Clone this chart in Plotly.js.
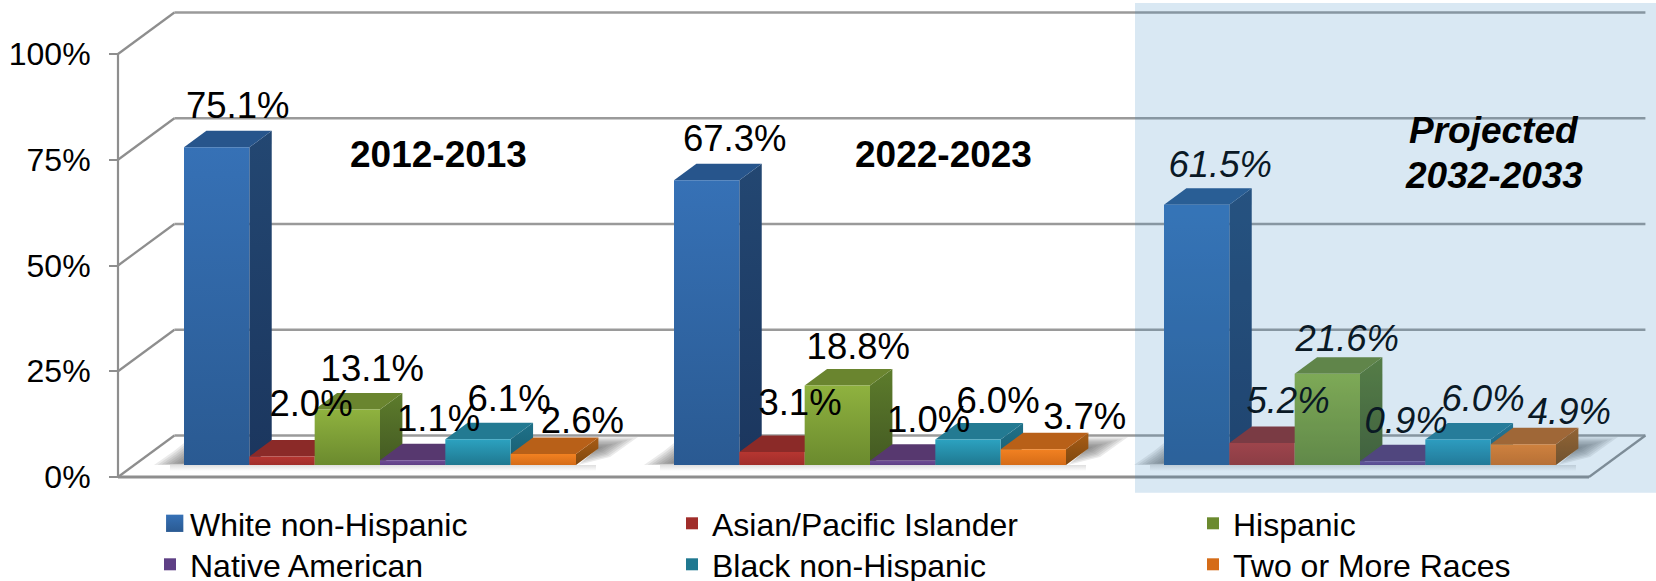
<!DOCTYPE html>
<html>
<head>
<meta charset="utf-8">
<script src="https://cdn.plot.ly/plotly-3.0.1.min.js"></script>
<style>html,body{margin:0;padding:0;background:#fff;overflow:hidden;width:1656px;height:581px}#chart{width:1656px;height:581px;overflow:hidden}</style>
</head>
<body>
<div id="chart"></div>
<script>
// ---------- data ----------
const categories = ['2012-2013', '2022-2023', 'Projected<br>2032-2033'];
const seriesNames = ['White non-Hispanic', 'Asian/Pacific Islander', 'Hispanic', 'Native American', 'Black non-Hispanic', 'Two or More Races'];
const whiteNonHispanic = [75.1, 67.3, 61.5];
const asianPacificIslander = [2.0, 3.1, 5.2];
const hispanic = [13.1, 18.8, 21.6];
const nativeAmerican = [1.1, 1.0, 0.9];
const blackNonHispanic = [6.1, 6.0, 6.0];
const twoOrMoreRaces = [2.6, 3.7, 4.9];
const yTicks = [0, 25, 50, 75, 100];
const allSeries = [whiteNonHispanic, asianPacificIslander, hispanic, nativeAmerican, blackNonHispanic, twoOrMoreRaces];

// ---------- styles: front top, front bottom, side top, side bottom, top face ----------
const palette = [
  ['#3671B6', '#2A5A92', '#234772', '#1B365E', '#27558C'],
  ['#B63631', '#A02D2A', '#8A2A28', '#6E2020', '#8B2A28'],
  ['#8FB23F', '#6B8A2E', '#5D7C2C', '#435922', '#6A852F'],
  ['#6F4D96', '#5E3F85', '#4A3063', '#402A58', '#57386F'],
  ['#2CA2C0', '#1F7890', '#1F7189', '#185D70', '#237A92'],
  ['#F28121', '#D56C18', '#A85C14', '#7E4810', '#B86018']
];

// ---------- geometry (pixels per unit of each axis) ----------
// The figure is a little taller than the window, so the legend's lower row is not clipped by its own box.
const W = 1656, H = 610;
const pxPerCat = 490, pxPerPct = 4.23;
const origin = 380;                     // centre of first category, px
const floorFront = 477, floorBars = 465;
const X = px => (px - origin) / pxPerCat;
const wallDx = 56.4 / pxPerCat, wallDy = 41.5 / pxPerPct;
const barDx = 22.4 / pxPerCat, barDy = 16.5 / pxPerPct;
const frontLeft = X(118), frontRight = X(1589);
const barsShift = (floorFront - floorBars) / pxPerPct;
const barWidth = 0.8 / 6;

// label offsets from the bar's front top-centre, px
const labelDx = [[21, 28, 23.5], [29, 28, 26], [25, 21, 20], [26, 26, 13.5], [31, 30, 25], [39, 51.4, 46]];
const labelLift = [[38.5, 38.5, 36.5], [50, 46.5, 39.5], [38.1, 36, 31.5], [38.5, 37.5, 37.5], [37.5, 36.1, 38.1], [30.5, 29.1, 29.1]];

// legend layout: each series has its own one-item legend placed on a 3 x 2 grid
const legendIds = ['legend', 'legend2', 'legend3', 'legend4', 'legend5', 'legend6'];
const legendColumnsPx = [150, 672, 1193];
const legendRowsPx = [496, 537];

// floor-shadow outlines around each bar group, px relative to the group's base corner, with the darkest point
const shadowLeft = {pts: [[-30, 0], [0, 0], [0, 22], [-10, 14]], dark: [0, 2]};
const shadowRight = {pts: [[2, 0], [22, 16.5], [22, 28], [62, 28], [34, 8]], dark: [22, 17]};
const shadowLayers = 8;

const FONT = 'Liberation Sans, Arial, sans-serif';
const catIdx = categories.map((_, i) => i);
const traces = [];

// soft floor shadows, stacked translucent layers shrinking to the dark point
function addShadow(corner, shape) {
  for (let k = shadowLayers; k >= 1; k--) {
    const f = k / shadowLayers;
    const pts = shape.pts.concat([shape.pts[0]]).map(p => [
      shape.dark[0] + (p[0] - shape.dark[0]) * f,
      shape.dark[1] + (p[1] - shape.dark[1]) * f
    ]);
    traces.push({
      x: pts.map(p => corner + p[0] / pxPerCat), y: pts.map(p => barsShift + p[1] / pxPerPct),
      type: 'scatter', mode: 'none', fill: 'toself', showlegend: false, hoverinfo: 'skip',
      fillcolor: 'rgba(90,90,90,0.12)'
    });
  }
}
catIdx.forEach(g => {
  const L = g - 0.4, R = g + 0.4, s = barsShift;
  addShadow(L, shadowLeft);
  addShadow(R, shadowRight);
  traces.push({
    x: [L - 14 / pxPerCat, R + 20 / pxPerCat, R + 20 / pxPerCat, L - 14 / pxPerCat, L - 14 / pxPerCat],
    y: [s, s, s - 6 / pxPerPct, s - 6 / pxPerPct, s],
    type: 'scatter', mode: 'none', fill: 'toself', showlegend: false, hoverinfo: 'skip',
    fillgradient: {type: 'vertical', colorscale: [[0, 'rgba(200,200,200,0)'], [1, 'rgba(200,200,200,0.6)']]}
  });
});

// depth faces of each bar, painted left to right (on the main axis, below the front faces)
catIdx.forEach(g => {
  allSeries.forEach((vals, i) => {
    const v = vals[g];
    const xl = g + (i - 3) * barWidth, xr = xl + barWidth;
    const s = barsShift;
    traces.push({
      x: [xr, xr + barDx, xr + barDx, xr, xr],
      y: [s, s + barDy, s + v + barDy, s + v, s],
      type: 'scatter', mode: 'none', fill: 'toself', showlegend: false, hoverinfo: 'skip',
      fillgradient: {type: 'vertical', colorscale: [[0, palette[i][3]], [1, palette[i][2]]]}
    });
    traces.push({
      x: [xl, xr, xr + barDx, xl + barDx, xl],
      y: [s + v, s + v, s + v + barDy, s + v + barDy, s + v],
      type: 'scatter', mode: 'none', fill: 'toself', showlegend: false, hoverinfo: 'skip',
      fillcolor: palette[i][4]
    });
  });
});

// front faces: real grouped bars on an overlaid axis whose zero sits on the bar plane
allSeries.forEach((vals, i) => {
  traces.push({
    type: 'bar', x: catIdx, y: vals, name: seriesNames[i], xaxis: 'x', yaxis: 'y2', legend: legendIds[i],
    marker: {color: palette[i][1], line: {width: 0}}, hoverinfo: 'name+y'
  });
});

// data labels
allSeries.forEach((vals, i) => {
  traces.push({
    type: 'scatter', mode: 'text', xaxis: 'x', yaxis: 'y2', showlegend: false, hoverinfo: 'skip',
    x: catIdx.map(g => g + (i - 2.5) * barWidth + labelDx[i][g] / pxPerCat),
    y: vals.map((v, g) => v + labelLift[i][g] / pxPerPct),
    text: vals.map(v => v.toFixed(1) + '%'),
    textposition: 'middle center',
    cliponaxis: false,
    textfont: {family: FONT, size: 36.5, color: '#000', style: catIdx.map(g => g === 2 ? 'italic' : 'normal')}
  });
});

// frame shapes
const frameLine = {color: '#8E8E8E', width: 2.2};
const shapes = [];
yTicks.forEach(t => {
  shapes.push({type: 'line', layer: 'below', xref: 'x', yref: 'y', x0: frontLeft, y0: t, x1: frontLeft + wallDx, y1: t + wallDy, line: frameLine});
  shapes.push({type: 'line', layer: 'below', xref: 'x', yref: 'y', x0: frontLeft + wallDx, y0: t + wallDy, x1: frontRight + wallDx, y1: t + wallDy, line: {color: '#9A9A9A', width: 2.6}});
});
shapes.push({type: 'line', layer: 'below', xref: 'x', yref: 'y', x0: frontLeft, y0: 0, x1: frontLeft, y1: 100, line: frameLine});
shapes.push({type: 'line', layer: 'below', xref: 'x', yref: 'y', x0: frontLeft, y0: 0, x1: frontRight, y1: 0, line: {color: '#8E8E8E', width: 3}});
shapes.push({type: 'line', layer: 'below', xref: 'x', yref: 'y', x0: frontRight, y0: 0, x1: frontRight + wallDx, y1: wallDy, line: frameLine});
// translucent panel over the projected group
shapes.push({type: 'rect', layer: 'above', xref: 'paper', yref: 'paper', x0: 1135 / W, x1: 1, y0: (H - 492.7) / H, y1: (H - 3) / H,
  fillcolor: 'rgba(53,134,192,0.19)', line: {width: 0}});

// period captions, one annotation per line: [centre x, centre y of each line] in px
const periodPos = [[438, [154]], [943, [154]], [1493.6, [130, 175]]];
const annotations = [];
categories.forEach((c, g) => {
  c.split('<br>').forEach((line, k) => {
    annotations.push({
      xref: 'x', yref: 'y', x: X(periodPos[g][0]), y: (floorFront - periodPos[g][1][k]) / pxPerPct,
      text: line, showarrow: false, xanchor: 'center', yanchor: 'middle', align: 'center',
      font: {family: FONT, size: 37, weight: 700, style: g === 2 ? 'italic' : 'normal', color: '#000'}
    });
  });
});

const legendStyle = i => ({
  orientation: 'v', x: legendColumnsPx[i % 3] / W, xanchor: 'left',
  y: (H - legendRowsPx[Math.floor(i / 3)]) / H, yanchor: 'top',
  bgcolor: 'rgba(0,0,0,0)', borderwidth: 0,
  font: {family: FONT, size: 32, color: '#000'}, itemclick: false, itemdoubleclick: false
});

const layout = {
  width: W, height: H, margin: {l: 0, r: 0, t: 0, b: 0, pad: 0, autoexpand: false},
  paper_bgcolor: '#fff', plot_bgcolor: 'rgba(0,0,0,0)',
  barmode: 'group', bargap: 0.2, bargroupgap: 0,
  xaxis: {type: 'linear', range: [X(0), X(W)], domain: [0, 1], visible: false, fixedrange: true},
  yaxis: {
    type: 'linear', range: [(floorFront - H) / pxPerPct, floorFront / pxPerPct], domain: [0, 1],
    anchor: 'free', position: 118 / W, tickmode: 'array', tickvals: yTicks, ticktext: yTicks.map(t => t + '%'),
    showgrid: false, zeroline: false, showline: false, ticks: 'outside', ticklen: 9, tickwidth: 2, tickcolor: '#8E8E8E',
    ticklabelstandoff: 12, tickfont: {family: FONT, size: 32, color: '#000'}, automargin: false, fixedrange: true
  },
  yaxis2: {
    type: 'linear', range: [(floorBars - H) / pxPerPct, floorBars / pxPerPct], domain: [0, 1],
    overlaying: 'y', visible: false, fixedrange: true
  },
  shapes, annotations, showlegend: true
};
legendIds.forEach((id, i) => { layout[id] = legendStyle(i); });

Plotly.newPlot('chart', traces, layout, {displayModeBar: false, staticPlot: true}).then(gd => {
  // vertical gradients on the real bars and their legend swatches
  const svg = gd.querySelector('.main-svg');
  const NS = 'http://www.w3.org/2000/svg';
  const defs = document.createElementNS(NS, 'defs');
  palette.forEach((p, i) => {
    const lg = document.createElementNS(NS, 'linearGradient');
    lg.setAttribute('id', 'front' + i);
    lg.setAttribute('x1', '0'); lg.setAttribute('y1', '0'); lg.setAttribute('x2', '0'); lg.setAttribute('y2', '1');
    [[0, p[0]], [1, p[1]]].forEach(st => {
      const s = document.createElementNS(NS, 'stop');
      s.setAttribute('offset', st[0]); s.setAttribute('stop-color', st[1]);
      lg.appendChild(s);
    });
    defs.appendChild(lg);
  });
  svg.insertBefore(defs, svg.firstChild);
  gd.querySelectorAll('.barlayer .trace.bars').forEach((tr, i) => {
    tr.querySelectorAll('path').forEach(p => { p.style.fill = 'url(#front' + i + ')'; });
  });
  gd.querySelectorAll('.legend .traces').forEach(tr => {
    const label = tr.querySelector('.legendtext');
    const i = seriesNames.indexOf(label ? label.textContent : '');
    if (i < 0) return;
    tr.querySelectorAll('.legendpoints path').forEach(p => {
      p.style.fill = 'url(#front' + i + ')';
      p.setAttribute('transform', 'translate(24.7,0) scale(1.44)');
    });
  });
});
</script>
</body>
</html>
